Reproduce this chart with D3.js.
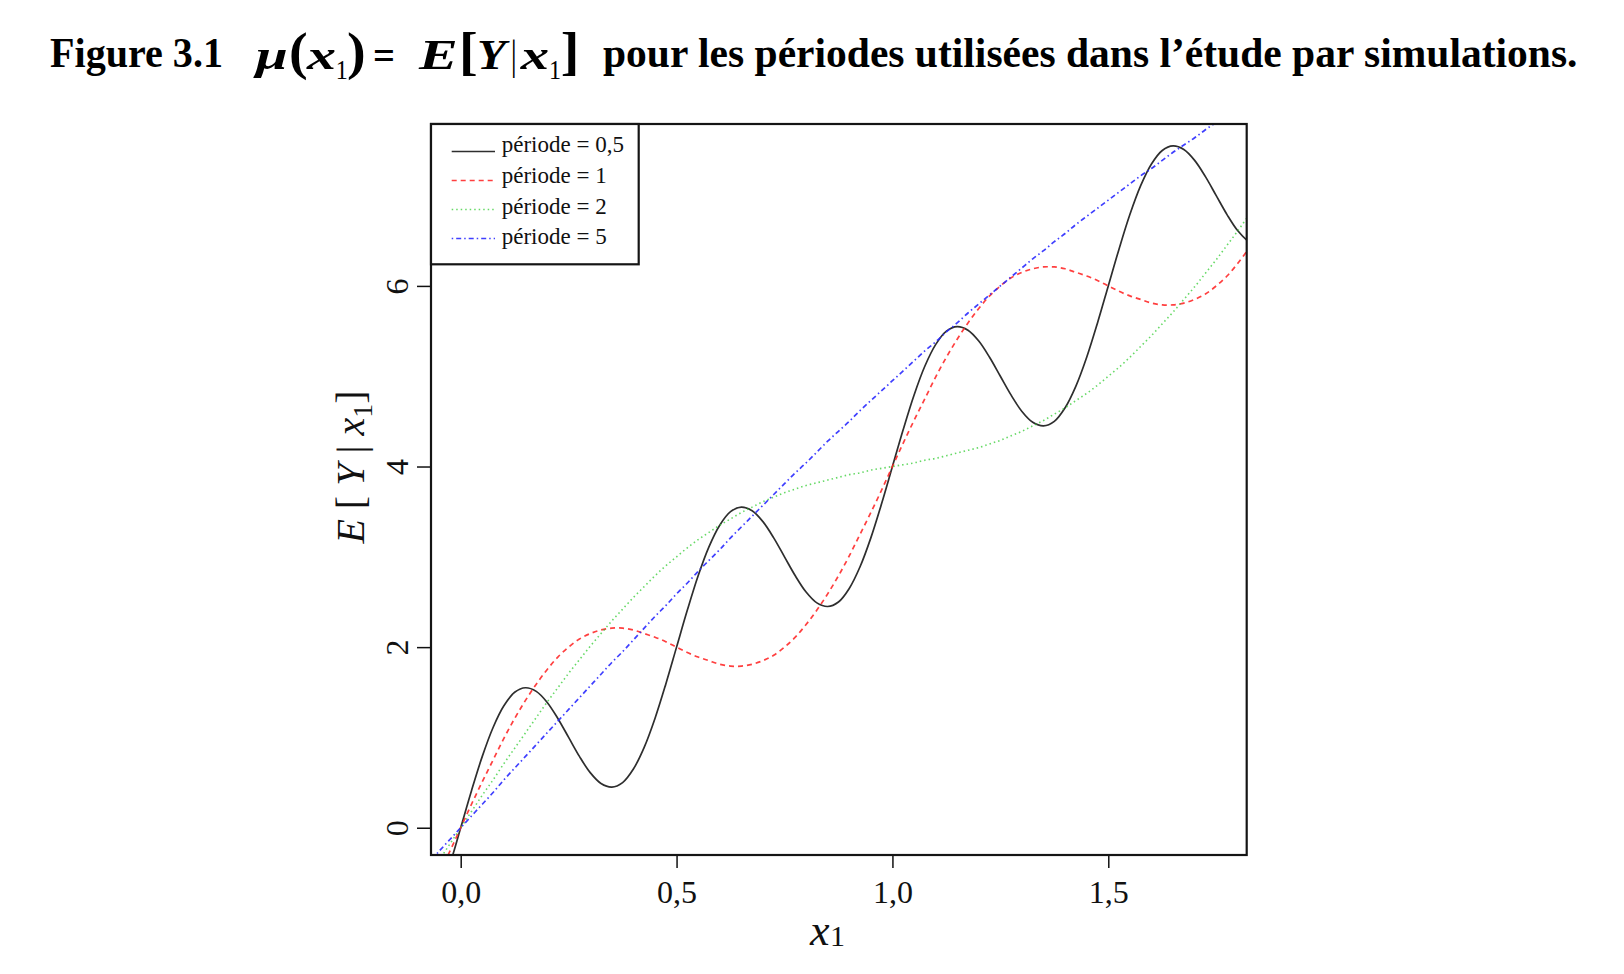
<!DOCTYPE html>
<html><head><meta charset="utf-8">
<script src="https://cdn.jsdelivr.net/npm/d3@7"></script>
<style>body{margin:0;background:#fff} svg{display:block}</style>
</head><body>
<svg id="chart" width="1624" height="974"></svg>
<script>
const xValues = [-0.075,-0.05,-0.025,0,0.025,0.05,0.075,0.1,0.125,0.15,0.175,0.2,0.225,0.25,0.275,0.3,0.325,0.35,0.375,0.4,0.425,0.45,0.475,0.5,0.525,0.55,0.575,0.6,0.625,0.65,0.675,0.7,0.725,0.75,0.775,0.8,0.825,0.85,0.875,0.9,0.925,0.95,0.975,1,1.025,1.05,1.075,1.1,1.125,1.15,1.175,1.2,1.225,1.25,1.275,1.3,1.325,1.35,1.375,1.4,1.425,1.45,1.475,1.5,1.525,1.55,1.575,1.6,1.625,1.65,1.675,1.7,1.725,1.75,1.775,1.8,1.825];
const yPeriod05 = [-1.11,-0.79,-0.41,
  0,0.41,0.79,1.11,1.35,1.50,1.55,1.51,1.39,1.21,1.00,0.79,0.61,0.49,0.45,0.50,0.65,0.89,1.21,1.59,
  2.00,2.41,2.79,3.11,3.35,3.50,3.55,3.51,3.39,3.21,3.00,2.79,2.61,2.49,2.45,2.50,2.65,2.89,3.21,3.59,
  4.00,4.41,4.79,5.11,5.35,5.50,5.55,5.51,5.39,5.21,5.00,4.79,4.61,4.49,4.45,4.50,4.65,4.89,5.21,5.59,
  6.00,6.41,6.79,7.11,7.35,7.50,7.55,7.51,7.39,7.21,7.00,6.79,6.61,6.49];
const yPeriod1 = [-0.75,-0.51,-0.26,
  0,0.26,0.51,0.75,0.99,1.21,1.41,1.59,1.75,1.89,2.00,2.09,2.15,2.19,2.21,2.21,2.19,2.15,2.11,2.06,
  2.00,1.94,1.89,1.85,1.81,1.79,1.79,1.81,1.85,1.91,2.00,2.11,2.25,2.41,2.59,2.79,3.01,3.25,3.49,3.74,
  4.00,4.26,4.51,4.75,4.99,5.21,5.41,5.59,5.75,5.89,6.00,6.09,6.15,6.19,6.21,6.21,6.19,6.15,6.11,6.06,
  6.00,5.94,5.89,5.85,5.81,5.79,5.79,5.81,5.85,5.91,6.00,6.11,6.25,6.41];
const yPeriod2 = [-0.53,-0.36,-0.18,
  0,0.18,0.36,0.53,0.71,0.88,1.05,1.22,1.39,1.55,1.71,1.86,2.01,2.15,2.29,2.42,2.55,2.67,2.79,2.90,
  3.00,3.10,3.19,3.27,3.35,3.42,3.49,3.55,3.61,3.66,3.71,3.75,3.79,3.82,3.85,3.88,3.91,3.93,3.96,3.98,
  4.00,4.02,4.04,4.07,4.09,4.12,4.15,4.18,4.21,4.25,4.29,4.34,4.39,4.45,4.51,4.58,4.65,4.73,4.81,4.90,
  5.00,5.10,5.21,5.33,5.45,5.58,5.71,5.85,5.99,6.14,6.29,6.45,6.61,6.78];
const yPeriod5 = [-0.39,-0.26,-0.13,
  0,0.13,0.26,0.39,0.53,0.66,0.79,0.92,1.05,1.18,1.31,1.44,1.57,1.70,1.83,1.95,2.08,2.21,2.34,2.46,
  2.59,2.71,2.84,2.96,3.08,3.21,3.33,3.45,3.57,3.69,3.81,3.93,4.04,4.16,4.28,4.39,4.50,4.62,4.73,4.84,
  4.95,5.06,5.17,5.28,5.38,5.49,5.59,5.70,5.80,5.90,6.00,6.10,6.20,6.30,6.39,6.49,6.58,6.68,6.77,6.86,
  6.95,7.04,7.13,7.22,7.30,7.39,7.48,7.56,7.64,7.73,7.81,7.89,7.97,8.05];
const seriesLabels = ["période = 0,5", "période = 1", "période = 2", "période = 5"];
const xTicks = [0, 0.5, 1.0, 1.5];
const xTickLabels = ["0,0", "0,5", "1,0", "1,5"];
const yTicks = [0, 2, 4, 6];
const yTickLabels = ["0", "2", "4", "6"];

const FONT = "'Liberation Serif','Times New Roman',serif";
const svg = d3.select("#chart");
svg.append("rect").attr("width",1624).attr("height",974).attr("fill","#fff");

const L = 431, R = 1246.7, T = 124, B = 855;
const xScale = d3.scaleLinear().domain([-0.0688, 1.8206]).range([L, R]);
const yScale = d3.scaleLinear().domain([-0.302, 7.793]).range([B, T]);

svg.append("defs").append("clipPath").attr("id","plotclip")
  .append("rect").attr("x",L).attr("y",T).attr("width",R-L).attr("height",B-T);

const series = [
  {y: yPeriod05, color: "#2e2e2e", dash: null, width: 1.7, opacity: 1},
  {y: yPeriod1, color: "#ff2a2a", dash: "5,4", width: 1.7, opacity: 0.9},
  {y: yPeriod2, color: "#33cc33", dash: "1.5,3", width: 1.6, opacity: 0.75},
  {y: yPeriod5, color: "#2a2aff", dash: "1.5,3,5,3", width: 1.7, opacity: 0.9}
];

const line = d3.line().x((d,i)=>xScale(xValues[i])).y(d=>yScale(d)).curve(d3.curveCatmullRom);
const plotG = svg.append("g").attr("clip-path","url(#plotclip)");
series.forEach(s => {
  plotG.append("path").attr("d", line(s.y)).attr("fill","none")
    .attr("stroke", s.color).attr("stroke-width", s.width)
    .attr("stroke-opacity", s.opacity)
    .attr("stroke-dasharray", s.dash);
});

const gx = svg.append("g").attr("transform",`translate(0,${B})`)
  .call(d3.axisBottom(xScale).tickValues(xTicks).tickSize(13).tickFormat((d,i)=>xTickLabels[i]));
gx.select(".domain").remove();
gx.selectAll("line").attr("stroke","#111").attr("stroke-width",1.5);
gx.selectAll("text").attr("font-family",FONT).attr("font-size",32).attr("fill","#111")
  .attr("y",48).attr("dy",0);

const gy = svg.append("g").attr("transform",`translate(${L},0)`)
  .call(d3.axisLeft(yScale).tickValues(yTicks).tickSize(14).tickFormat((d,i)=>yTickLabels[i]));
gy.select(".domain").remove();
gy.selectAll("line").attr("stroke","#111").attr("stroke-width",1.5);
gy.selectAll("text").attr("font-family",FONT).attr("font-size",32).attr("fill","#111")
  .attr("x",0).attr("y",0).attr("dy",0).attr("text-anchor","middle")
  .attr("transform","translate(-23,0) rotate(-90)");

svg.append("rect").attr("x",L).attr("y",T).attr("width",R-L).attr("height",B-T)
  .attr("fill","none").attr("stroke","#151515").attr("stroke-width",2.2);

// legend
const lg = svg.append("g");
lg.append("rect").attr("x",L).attr("y",T).attr("width",638.7-L).attr("height",264.3-T)
  .attr("fill","#fff").attr("stroke","#151515").attr("stroke-width",2.2);
const rowLineY = [151.5, 180.5, 209.5, 238.5];
const rowTextY = [152, 183, 214, 244];
series.forEach((s,i) => {
  lg.append("line").attr("x1",451.7).attr("x2",495).attr("y1",rowLineY[i]).attr("y2",rowLineY[i])
    .attr("stroke",s.color).attr("stroke-width",s.width).attr("stroke-opacity",s.opacity)
    .attr("stroke-dasharray",s.dash);
  lg.append("text").attr("x",501.7).attr("y",rowTextY[i]).attr("font-family",FONT)
    .attr("font-size",23).attr("fill","#111").text(seriesLabels[i]);
});

// axis titles
const yl = svg.append("text").attr("transform","translate(364,467) rotate(-90)")
  .attr("text-anchor","middle").attr("font-family",FONT).attr("font-size",40).attr("fill","#111");
yl.append("tspan").attr("font-style","italic").text("E");
yl.append("tspan").text(" [ ");
yl.append("tspan").attr("font-style","italic").text("Y");
yl.append("tspan").text(" | ");
yl.append("tspan").attr("font-style","italic").text("x");
yl.append("tspan").attr("font-size",28).attr("dy",8).text("1");
yl.append("tspan").attr("dy",-8).text("]");

const xl = svg.append("g").attr("font-family",FONT).attr("fill","#111");
xl.append("text").attr("x",810).attr("y",945).attr("font-size",44).attr("font-style","italic").text("x");
xl.append("text").attr("x",830).attr("y",946).attr("font-size",30).text("1");

// title
const tg = svg.append("g").attr("font-family",FONT).attr("font-weight","bold").attr("fill","#000");
tg.append("text").attr("x",50).attr("y",67).attr("font-size",42)
  .attr("textLength",173).attr("lengthAdjust","spacingAndGlyphs").text("Figure 3.1");
const mathParts = [
  {t:"μ", x:256.7, w:30, y:69, s:42, i:true},
  {t:"(", x:290, w:16.7, y:69, s:52, i:false},
  {t:"x", x:308, w:27, y:69, s:42, i:true},
  {t:"1", x:336.7, w:10, y:79, s:28, i:false, wt:"normal"},
  {t:")", x:348, w:16.7, y:69, s:52, i:false},
  {t:"=", x:374, w:20, y:69, s:42, i:false},
  {t:"E", x:420, w:36.7, y:69, s:42, i:true},
  {t:"[", x:460, w:16.7, y:69, s:52, i:false},
  {t:"Y", x:478, w:27, y:69, s:42, i:true},
  {t:"|", x:511.7, w:4, y:69, s:42, i:false, wt:"normal"},
  {t:"x", x:521.7, w:26.3, y:69, s:42, i:true},
  {t:"1", x:550, w:10, y:79, s:28, i:false, wt:"normal"},
  {t:"]", x:561.7, w:16.6, y:69, s:52, i:false}
];
mathParts.forEach(p => {
  tg.append("text").attr("x",p.x - 1).attr("y",p.y).attr("font-size",p.s)
    .attr("font-style", p.i ? "italic" : "normal")
    .attr("font-weight", p.wt || "bold")
    .attr("textLength", p.w + 2).attr("lengthAdjust","spacingAndGlyphs").text(p.t);
});
tg.append("text").attr("x",603).attr("y",67).attr("font-size",42)
  .attr("textLength",974.5).attr("lengthAdjust","spacingAndGlyphs")
  .text("pour les périodes utilisées dans l’étude par simulations.");
</script>
</body></html>
